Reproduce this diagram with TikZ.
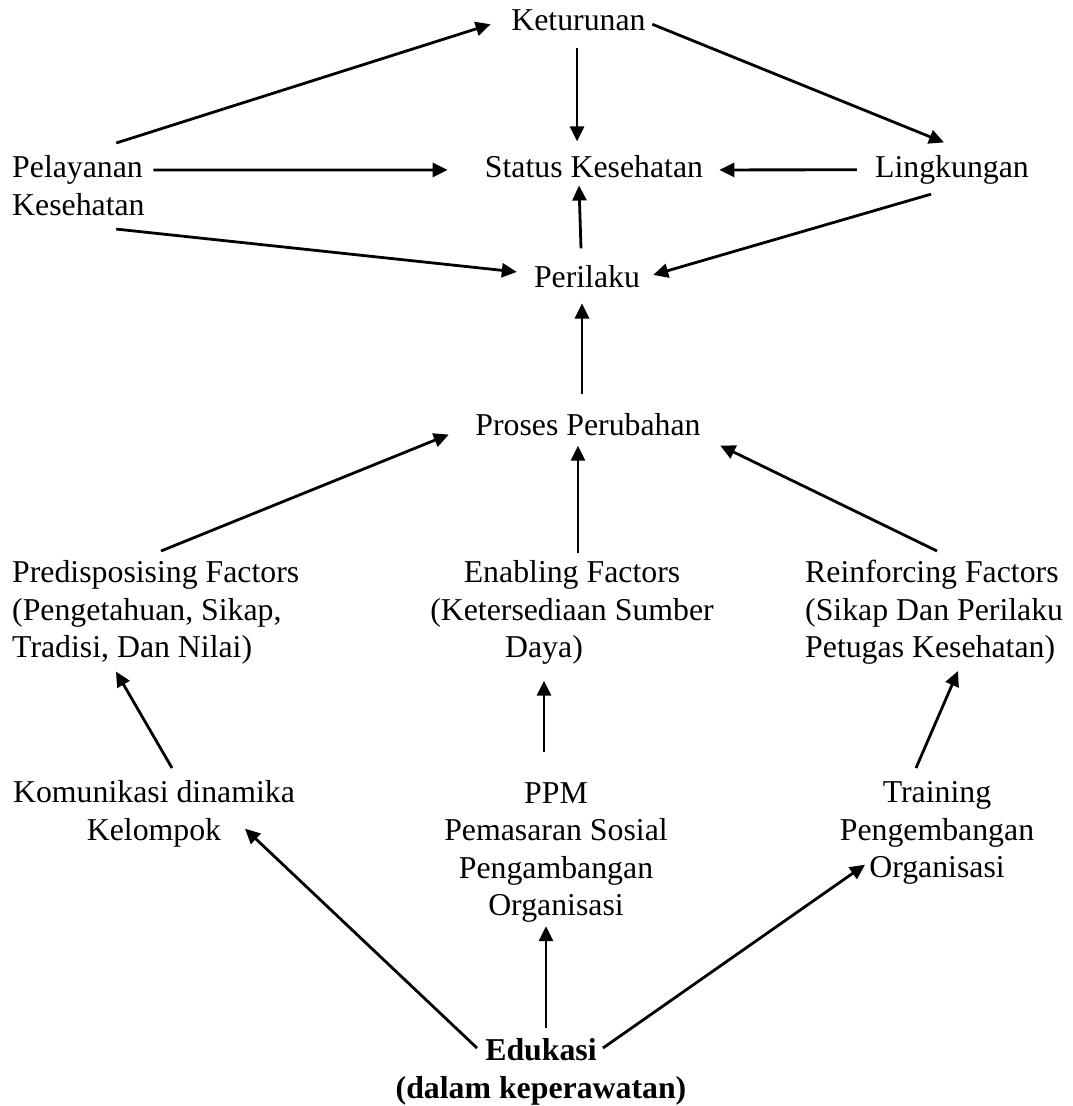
\documentclass[tikz,border=0pt]{standalone}
\usepackage{fontspec}
\setmainfont{Liberation Serif}
\usetikzlibrary{arrows.meta}

\begin{document}
\begin{tikzpicture}[
    x=1pt, y=-1pt,
    term/.style={inner sep=0pt, font=\fontsize{31.8}{37.5}\selectfont},
    block/.style={term, anchor=north, align=center},
    lblock/.style={term, anchor=north west, align=left},
    arr/.style={-{Triangle[length=15pt, width=14pt]}, line width=2.8pt, draw=black}
]
\useasboundingbox (0,0) rectangle (1073,1106);

%% Upper level
\node[term, anchor=base] (ket)  at (578.5, 30) {Keturunan};
\node[term, anchor=base] (stat) at (594, 177)  {Status Kesehatan};
\node[term, anchor=base] (ling) at (952, 177)  {Lingkungan};
\node[term, anchor=base] (per)  at (587, 287)  {Perilaku};
\node[lblock] (pel) at (12, 155.3) {Pelayanan\\Kesehatan};

%% Middle level
\node[term, anchor=base] (pros) at (588, 435) {Proses Perubahan};
\node[lblock] (pred)  at (12, 560.3)  {Predisposising Factors\\(Pengetahuan, Sikap,\\Tradisi, Dan Nilai)};
\node[block]  (enab)  at (572, 560.3) {Enabling Factors\\(Ketersediaan Sumber\\Daya)\hspace*{56pt}};
\node[lblock] (reinf) at (805, 560.3) {Reinforcing Factors\\(Sikap Dan Perilaku\\Petugas Kesehatan)};

%% Lower level
\node[block] (kom)   at (154, 780.3) {Komunikasi dinamika\\Kelompok};
\node[block] (ppm)   at (556, 782)   {PPM\\Pemasaran Sosial\\Pengambangan\\Organisasi};
\node[block] (train) at (937, 781.3) {Training\\Pengembangan\\Organisasi};
\node[block, font=\fontsize{31.8}{37.5}\selectfont\bfseries] (edu) at (541, 1038.5)
    {Edukasi\\(dalam keperawatan)};

%% ── Determinants of health status ───────────────────────────────
\draw[arr] ([shift={(37.8,-12.3)}]pel.north)      -- ([shift={(-20.5,4.5)}]ket.west);
\draw[arr] ([shift={(8.6,14.7)}]pel.north east)   -- ([shift={(-37,3.8)}]stat.west);
\draw[arr] ([shift={(37.8,13.5)}]pel.south)       -- ([shift={(-17,-4.2)}]per.west);
\draw[arr] ([shift={(6.5,4.5)}]ket.east)          -- ([shift={(-8,-12.3)}]ling.north);
\draw[arr] ([shift={(-1.5,17)}]ket.south)         -- ([shift={(-17,-13.3)}]stat.north);
\draw[arr] ([shift={(-18.2,0.4)}]ling.west)       -- ([shift={(16,3.8)}]stat.east);
\draw[arr] ([shift={(-6,-16.3)}]per.north)        -- ([shift={(-15,8)}]stat.south);
\draw[arr] ([shift={(-21,10.1)}]ling.south)       -- ([shift={(13,-1.2)}]per.east);

%% ── Change process ──────────────────────────────────────────────
\draw[arr] ([shift={(-6,-18.3)}]pros.north)       -- ([shift={(-5,16)}]per.south);
\draw[arr] ([shift={(149,-9.3)}]pred.north west)  -- ([shift={(-26.4,10.4)}]pros.west);
\draw[arr] ([shift={(6,-7.3)}]enab.north)         -- ([shift={(-10,10.1)}]pros.south);
\draw[arr] ([shift={(132,-9.3)}]reinf.north west) -- ([shift={(19.4,21.4)}]pros.east);

%% ── Interventions ───────────────────────────────────────────────
\draw[arr] ([shift={(18,-12.3)}]kom.north)        -- ([shift={(104,7)}]pred.south west);
\draw[arr] ([shift={(-12,-30)}]ppm.north)         -- ([shift={(-28,16.1)}]enab.south);
\draw[arr] ([shift={(-21,-13.3)}]train.north)     -- ([shift={(153,6.1)}]reinf.south west);

%% ── Education ───────────────────────────────────────────────────
\draw[arr] ([shift={(-64,9.5)}]edu.north)  -- ([shift={(91,-18.4)}]kom.south);
\draw[arr] ([shift={(5,-10.5)}]edu.north)  -- ([shift={(-10,3.6)}]ppm.south);
\draw[arr] ([shift={(62,9.5)}]edu.north)   -- ([shift={(-72,-19.9)}]train.south);

\end{tikzpicture}
\end{document}
